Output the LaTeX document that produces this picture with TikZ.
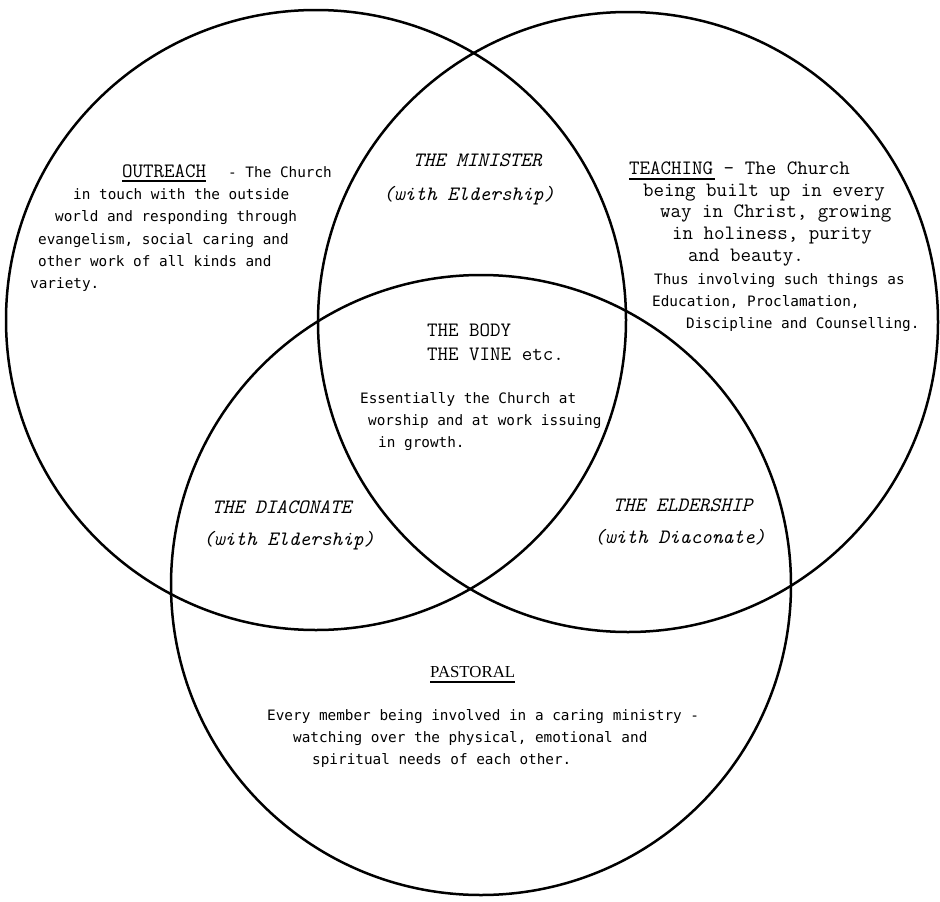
\documentclass[tikz,border=0pt]{standalone}
\usepackage{fontspec}
\newfontfamily\fgoth{DejaVu Sans Mono}
\newfontfamily\fser{Liberation Serif}
\tikzset{
  ring/.style={circle, draw=black, line width=2.5pt, inner sep=0pt, minimum size=620pt},
  cour/.style={anchor=base west, inner sep=0pt, font=\ttfamily\fontsize{20.4}{22}\selectfont},
  ital/.style={anchor=base west, inner sep=0pt, font=\ttfamily\itshape\fontsize{20.4}{22}\selectfont},
  goth/.style={anchor=base west, inner sep=0pt, font=\fgoth\fontsize{14.35}{18}\selectfont},
  sers/.style={anchor=base west, inner sep=0pt, font=\fser\fontsize{16.8}{20}\selectfont},
  uline/.style={line width=1.3pt}
}
\begin{document}
\begin{tikzpicture}[x=1pt,y=-1pt]
\useasboundingbox (0,0) rectangle (940,902);
% circles
\node[ring] (left) at (316,320) {};
\node[ring] (right) at (628,322) {};
\node[ring] (bottom) at (481,585) {};
% OUTREACH
\node[cour] (o1) at (122,177) {OUTREACH};
\node[goth] (o1b) at (228,177) {- The Church};
\node[goth] (o2) at (73,199) {in touch with the outside};
\node[goth] (o3) at (55,221) {world and responding through};
\node[goth] (o4) at (38,244) {evangelism, social caring and};
\node[goth] (o5) at (38,266) {other work of all kinds and};
\node[goth] (o6) at (30,288) {variety.};
\draw[uline] ([yshift=-4pt]o1.base west) -- ([yshift=-4pt]o1.base east);
% TEACHING
\node[cour] (t1) at (629,174) {TEACHING - The Church};
\node[cour] (t2) at (643,196) {being built up in every};
\node[cour] (t3) at (660,217) {way in Christ, growing};
\node[cour] (t4) at (672,239) {in holiness, purity};
\node[cour] (t5) at (688,261) {and beauty.};
\node[goth] (t6) at (654,284) {Thus involving such things as};
\node[goth] (t7) at (652,306) {Education, Proclamation,};
\node[goth] (t8) at (686,328) {Discipline and Counselling.};
\coordinate (tu) at ([xshift=85.6pt]t1.base west);
\draw[uline] ([yshift=-5pt]t1.base west) -- ([yshift=-5pt]tu);
% MINISTER
\node[ital] (m1) at (413,166) {THE MINISTER};
\node[ital] (m2) at (383,200) {(with Eldership)};
% centre
\node[cour] (c1) at (427,336) {THE BODY};
\node[cour] (c2) at (427,360) {THE VINE etc.};
\node[goth] (c3) at (360,403) {Essentially the Church at};
\node[goth] (c4) at (368,425) {worship and at work issuing};
\node[goth] (c5) at (378,447) {in growth.};
% DIACONATE
\node[ital] (d1) at (212,513) {THE DIACONATE};
\node[ital] (d2) at (203,545) {(with Eldership)};
% ELDERSHIP
\node[ital] (e1) at (613,511) {THE ELDERSHIP};
\node[ital] (e2) at (594,543) {(with Diaconate)};
% PASTORAL
\node[sers] (p1) at (430,677) {PASTORAL};
\draw[uline] ([yshift=-5pt]p1.base west) -- ([yshift=-5pt]p1.base east);
\node[goth] (p2) at (267,720) {Every member being involved in a caring ministry -};
\node[goth] (p3) at (293,742) {watching over the physical, emotional and};
\node[goth] (p4) at (312,764) {spiritual needs of each other.};
\end{tikzpicture}
\end{document}
